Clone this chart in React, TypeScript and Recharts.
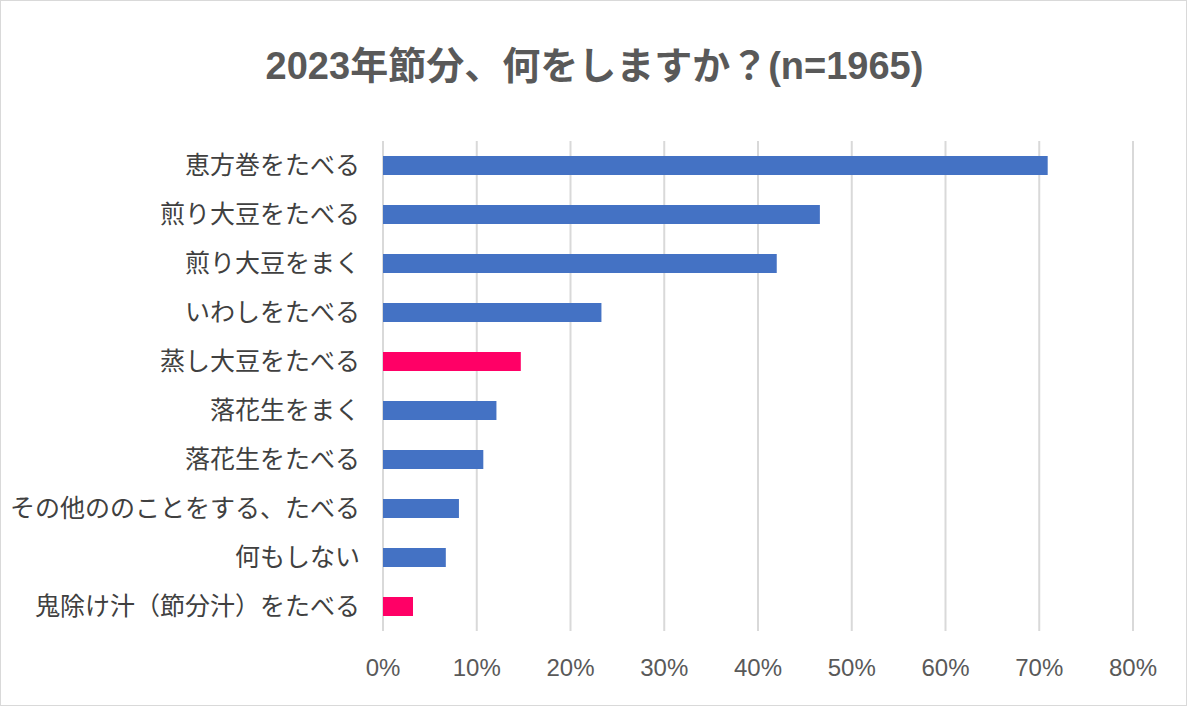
import React from "react";
import { BarChart, Bar, XAxis, YAxis, CartesianGrid, Cell } from "recharts";

const categories = [
  "恵方巻をたべる",
  "煎り大豆をたべる",
  "煎り大豆をまく",
  "いわしをたべる",
  "蒸し大豆をたべる",
  "落花生をまく",
  "落花生をたべる",
  "その他ののことをする、たべる",
  "何もしない",
  "鬼除け汁（節分汁）をたべる",
];
const values = [70.9, 46.6, 42.0, 23.3, 14.7, 12.1, 10.7, 8.1, 6.7, 3.2];
const highlighted = [false, false, false, false, true, false, false, false, false, true];
const xTicks = [0, 10, 20, 30, 40, 50, 60, 70, 80];
const title = "2023年節分、何をしますか？(n=1965)";

const data = categories.map((name, i) => ({ name, value: values[i], hl: highlighted[i] }));

const BLUE = "#4472C4";
const PINK = "#FF0066";
const FONT = '"Liberation Sans", "Noto Sans CJK JP", sans-serif';
const JFONT = '"Noto Sans CJK JP", "Liberation Sans", sans-serif';

export default function App() {
  return (
    <div
      style={{
        position: "absolute",
        left: 0,
        top: 0,
        width: 1187,
        height: 706,
        background: "#fff",
        boxSizing: "border-box",
        border: "1px solid #d9d9d9",
        overflow: "hidden",
      }}
    >
      <div
        style={{
          position: "absolute",
          left: 0,
          top: 40,
          width: 1187,
          textAlign: "center",
          fontFamily: FONT,
          fontWeight: 700,
          fontSize: 38,
          color: "#595959",
          lineHeight: "50px",
        }}
      >
        {title}
      </div>
      <div style={{ position: "absolute", left: -1, top: -1 }}>
        <BarChart
          width={1187}
          height={706}
          data={data}
          layout="vertical"
          margin={{ top: 141, right: 54, bottom: 0, left: 0 }}
        >
          <CartesianGrid horizontal={false} vertical={true} stroke="#d9d9d9" strokeWidth={2} />
          <XAxis
            type="number"
            domain={[0, 80]}
            ticks={xTicks}
            tickFormatter={(v: number) => `${v}%`}
            axisLine={false}
            tickLine={false}
            tickSize={0}
            tickMargin={28}
            interval={0}
            tick={{ fill: "#595959", fontSize: 24, fontFamily: FONT }}
            height={75}
          />
          <YAxis
            type="category"
            dataKey="name"
            width={383}
            axisLine={false}
            tickLine={false}
            tickSize={0}
            tickMargin={23}
            interval={0}
            tick={{ fill: "#404040", fontSize: 25, fontFamily: JFONT }}
          />
          <Bar dataKey="value" barSize={19} isAnimationActive={false}>
            {data.map((d, i) => (
              <Cell key={i} fill={d.hl ? PINK : BLUE} />
            ))}
          </Bar>
        </BarChart>
      </div>
    </div>
  );
}
